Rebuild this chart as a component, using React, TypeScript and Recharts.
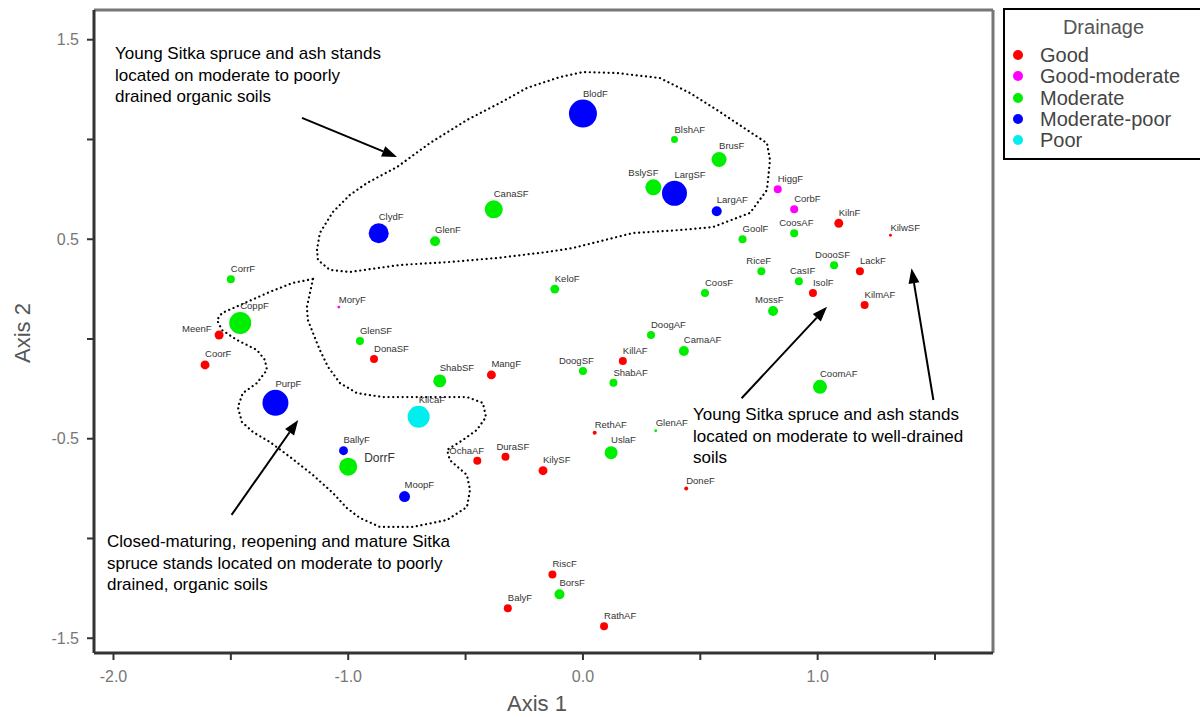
import { ScatterChart, Scatter, XAxis, YAxis, ReferenceLine } from 'recharts'

const DRAINAGE = ['Good', 'Good-moderate', 'Moderate', 'Moderate-poor', 'Poor']
const DRAINAGE_COLORS = ['#ff0000', '#ff00ff', '#00ee00', '#0000ff', '#00eeee']

// ordination scores
const SITES = [
  'BlodF', 'BlshAF', 'BrusF', 'BslySF', 'LargSF', 'LargAF', 'CanaSF', 'GlenF', 'ClydF', 'HiggF',
  'CorbF', 'KilnF', 'KilwSF', 'CoosAF', 'GoolF', 'DoooSF', 'LackF', 'RiceF', 'CasIF', 'IsolF',
  'KilmAF', 'CoosF', 'MossF', 'CoomAF', 'KeloF', 'DoogAF', 'CamaAF', 'KillAF', 'DoogSF', 'ShabAF',
  'MangF', 'RethAF', 'GlenAF', 'UslaF', 'DuraSF', 'KilySF', 'OchaAF', 'DoneF', 'RiscF', 'BorsF',
  'BalyF', 'RathAF', 'CorrF', 'CoppF', 'MeenF', 'CoorF', 'PurpF', 'MoryF', 'GlenSF', 'DonaSF',
  'ShabSF', 'KilcaF', 'BallyF', 'DorrF', 'MoopF',
]
const AXIS1 = [
  0.0, 0.39, 0.58, 0.3, 0.39, 0.57, -0.38, -0.63, -0.87, 0.83,
  0.9, 1.09, 1.31, 0.9, 0.68, 1.07, 1.18, 0.76, 0.92, 0.98,
  1.2, 0.52, 0.81, 1.01, -0.12, 0.29, 0.43, 0.17, 0.0, 0.13,
  -0.39, 0.05, 0.31, 0.12, -0.33, -0.17, -0.45, 0.44, -0.13, -0.1,
  -0.32, 0.09, -1.5, -1.46, -1.55, -1.61, -1.31, -1.04, -0.95, -0.89,
  -0.61, -0.7, -1.02, -1.0, -0.76,
]
const AXIS2 = [
  1.13, 1.0, 0.9, 0.76, 0.73, 0.64, 0.65, 0.49, 0.53, 0.75,
  0.65, 0.58, 0.52, 0.53, 0.5, 0.37, 0.34, 0.34, 0.29, 0.23,
  0.17, 0.23, 0.14, -0.24, 0.25, 0.02, -0.06, -0.11, -0.16, -0.22,
  -0.18, -0.47, -0.46, -0.57, -0.59, -0.66, -0.61, -0.75, -1.18, -1.28,
  -1.35, -1.44, 0.3, 0.08, 0.02, -0.13, -0.32, 0.16, -0.01, -0.1,
  -0.21, -0.39, -0.56, -0.64, -0.79,
]
const STAND_WEIGHT = [
  196, 12, 56, 64, 156, 25, 81, 25, 100, 16,
  16, 20, 2, 16, 16, 16, 16, 16, 16, 16,
  16, 16, 25, 49, 20, 16, 25, 16, 16, 16,
  20, 4, 2, 42, 16, 20, 16, 4, 16, 25,
  16, 16, 16, 121, 20, 20, 169, 2, 16, 16,
  42, 121, 20, 81, 30,
]
// index into DRAINAGE
const SITE_DRAINAGE = [
  3, 2, 2, 2, 3, 3, 2, 2, 3, 1,
  1, 0, 0, 2, 2, 2, 0, 2, 2, 0,
  0, 2, 2, 2, 2, 2, 2, 0, 2, 2,
  0, 0, 2, 2, 0, 0, 0, 0, 0, 2,
  0, 0, 2, 2, 0, 0, 3, 1, 2, 0,
  2, 4, 3, 2, 3,
]

const X_DOMAIN = [-2.083, 1.747]
const Y_DOMAIN = [-1.574, 1.649]
const X_TICKS = [-2, -1.5, -1, -0.5, 0, 0.5, 1, 1.5]
const X_LABELLED = [-2, -1, 0, 1]
const Y_TICKS = [-1.5, -1, -0.5, 0, 0.5, 1, 1.5]
const Y_LABELLED = [-1.5, -0.5, 0.5, 1.5]

// hand-drawn groupings, in axis units
const OUTLINE_YOUNG_WET = [
  [-1.133, 0.446], [-1.121, 0.531], [-1.065, 0.637], [-0.993, 0.722], [-0.92, 0.782],
  [-0.792, 0.862], [-0.652, 0.982], [-0.494, 1.098], [-0.354, 1.183], [-0.239, 1.258],
  [-0.098, 1.313], [0.0, 1.338], [0.145, 1.333], [0.328, 1.308], [0.456, 1.233],
  [0.571, 1.148], [0.699, 1.048], [0.784, 0.982], [0.797, 0.897], [0.784, 0.747],
  [0.712, 0.632], [0.554, 0.561], [0.413, 0.546], [0.213, 0.531], [-0.043, 0.456],
  [-0.153, 0.436], [-0.366, 0.406], [-0.567, 0.386], [-0.78, 0.371], [-0.993, 0.336],
  [-1.078, 0.346], [-1.129, 0.396], [-1.133, 0.446],
]
const OUTLINE_MATURE = [
  [-1.15, 0.301], [-1.163, 0.231], [-1.176, 0.16], [-1.172, 0.095], [-1.15, 0.03],
  [-1.121, -0.055], [-1.086, -0.14], [-1.035, -0.221], [-0.963, -0.271], [-0.852, -0.291],
  [-0.707, -0.291], [-0.494, -0.291], [-0.426, -0.321], [-0.413, -0.391], [-0.452, -0.456],
  [-0.511, -0.506], [-0.579, -0.556], [-0.567, -0.607], [-0.494, -0.682], [-0.481, -0.757],
  [-0.494, -0.842], [-0.579, -0.907], [-0.724, -0.942], [-0.865, -0.942], [-0.95, -0.897],
  [-1.006, -0.847], [-1.065, -0.772], [-1.15, -0.682], [-1.248, -0.591], [-1.334, -0.516],
  [-1.406, -0.466], [-1.453, -0.416], [-1.47, -0.341], [-1.449, -0.271], [-1.389, -0.221],
  [-1.346, -0.155], [-1.355, -0.105], [-1.389, -0.055], [-1.474, -0.005], [-1.538, 0.045],
  [-1.559, 0.095], [-1.538, 0.13], [-1.432, 0.185], [-1.334, 0.236], [-1.236, 0.281],
  [-1.15, 0.301],
]
const ARROWS = [
  [[-1.197, 1.108], [-0.792, 0.912]],
  [[0.676, -0.297], [1.04, 0.162]],
  [[1.493, -0.306], [1.4, 0.354]],
  [[-1.497, -0.882], [-1.213, -0.406]],
]

// label nudges (px) where the original labels sit left of their point
const LABEL_SHIFT: Record<string, number> = {
  BslySF: -25, DoooSF: -19, OchaAF: -28, DuraSF: -9, CoosAF: -15,
  DoogSF: -24, RiceF: -15, CasIF: -9, MossF: -18,
}
const LABEL_LEFT = ['MeenF']
const LABEL_RIGHT = ['DorrF']

const FONT = '"Liberation Sans", Arial, sans-serif'

const sites = SITES.map((site, i) => ({
  site,
  x: AXIS1[i],
  y: AXIS2[i],
  weight: STAND_WEIGHT[i],
  drainage: SITE_DRAINAGE[i],
}))

function Bubble(props: any) {
  const { cx, cy, payload, color } = props
  if (cx == null || cy == null) return null
  const r = Math.sqrt(payload.weight)
  let tx = cx + (LABEL_SHIFT[payload.site] ?? 0)
  let ty = cy - r - 3
  let anchor = 'start'
  if (LABEL_LEFT.includes(payload.site)) {
    tx = cx - r - 3
    ty = cy - 3
    anchor = 'end'
  } else if (LABEL_RIGHT.includes(payload.site)) {
    tx = cx + r + 7
    ty = cy - 5
  }
  return (
    <g>
      <circle cx={cx} cy={cy} r={r} fill={color} />
      <text x={tx} y={ty} textAnchor={anchor} fontSize={LABEL_RIGHT.includes(payload.site) ? 12 : 9.5} fill="#333" fontFamily={FONT}>
        {payload.site}
      </text>
    </g>
  )
}

function Arrow(props: any) {
  const { x1, y1, x2, y2 } = props
  const a = Math.atan2(y2 - y1, x2 - x1)
  const len = 15
  const w = 5.5
  const bx = x2 - len * Math.cos(a)
  const by = y2 - len * Math.sin(a)
  const px = -Math.sin(a) * w
  const py = Math.cos(a) * w
  return (
    <g>
      <line x1={x1} y1={y1} x2={bx} y2={by} stroke="#000" strokeWidth={2} />
      <polygon points={`${x2},${y2} ${bx + px},${by + py} ${bx - px},${by - py}`} fill="#000" />
    </g>
  )
}

const xTick = (props: any) => {
  const { x, y, payload } = props
  if (!X_LABELLED.includes(payload.value)) return <g />
  return (
    <text x={x} y={y} dy="0.71em" textAnchor="middle" fontSize={16} fill="#777" fontFamily={FONT}>
      {payload.value.toFixed(1)}
    </text>
  )
}

const yTick = (props: any) => {
  const { x, y, payload } = props
  if (!Y_LABELLED.includes(payload.value)) return <g />
  return (
    <text x={x} y={y} dy="0.35em" textAnchor="end" fontSize={16} fill="#777" fontFamily={FONT}>
      {payload.value.toFixed(1)}
    </text>
  )
}

const noDot = () => <g />

const noteStyle = {
  position: 'absolute' as const,
  fontFamily: FONT,
  fontSize: 17,
  lineHeight: '21.5px',
  color: '#000',
  whiteSpace: 'nowrap' as const,
}

export default function App() {
  return (
    <div style={{ position: 'absolute', left: 0, top: 0, width: 1200, height: 717, background: '#fff', overflow: 'hidden' }}>
      <ScatterChart width={1200} height={717} margin={{ top: 10, right: 207, bottom: 24, left: 34 }}>
        <XAxis
          type="number"
          dataKey="x"
          domain={X_DOMAIN}
          ticks={X_TICKS}
          interval={0}
          allowDataOverflow
          height={40}
          tickSize={7}
          tickMargin={11}
          tick={xTick}
          tickLine={{ stroke: '#333', strokeWidth: 2 }}
          axisLine={{ stroke: '#333', strokeWidth: 3 }}
        />
        <YAxis
          type="number"
          dataKey="y"
          domain={Y_DOMAIN}
          ticks={Y_TICKS}
          interval={0}
          allowDataOverflow
          width={60}
          tickSize={7}
          tickMargin={8}
          tick={yTick}
          tickLine={{ stroke: '#333', strokeWidth: 2 }}
          axisLine={{ stroke: '#333', strokeWidth: 3 }}
        />
        <ReferenceLine y={Y_DOMAIN[1]} stroke="#777" strokeWidth={3} />
        <ReferenceLine x={X_DOMAIN[1]} stroke="#777" strokeWidth={3} />

        {[OUTLINE_YOUNG_WET, OUTLINE_MATURE].map((outline, i) => (
          <Scatter
            key={`outline-${i}`}
            data={outline.map(([x, y]) => ({ x, y }))}
            line={{ stroke: '#000', strokeWidth: 2.2, strokeDasharray: '0.1 4.6', strokeLinecap: 'round' }}
            lineType="joint"
            shape={noDot}
            legendType="none"
            isAnimationActive={false}
          />
        ))}

        {ARROWS.map(([from, to], i) => (
          <ReferenceLine
            key={`arrow-${i}`}
            segment={[{ x: from[0], y: from[1] }, { x: to[0], y: to[1] }]}
            shape={Arrow}
            ifOverflow="visible"
          />
        ))}

        {DRAINAGE.map((name, d) => (
          <Scatter
            key={name}
            name={name}
            data={sites.filter((s) => s.drainage === d)}
            fill={DRAINAGE_COLORS[d]}
            shape={(p: any) => <Bubble {...p} color={DRAINAGE_COLORS[d]} />}
            isAnimationActive={false}
          />
        ))}
      </ScatterChart>

      <div style={{ ...noteStyle, left: 115, top: 43 }}>
        Young Sitka spruce and ash stands<br />located on moderate to poorly<br />drained organic soils
      </div>
      <div style={{ ...noteStyle, left: 693, top: 404 }}>
        Young Sitka spruce and ash stands<br />located on moderate to well-drained<br />soils
      </div>
      <div style={{ ...noteStyle, left: 107, top: 531 }}>
        Closed-maturing, reopening and mature Sitka<br />spruce stands located on moderate to poorly<br />drained, organic soils
      </div>

      <div style={{ position: 'absolute', left: 507, top: 691, fontFamily: FONT, fontSize: 22, color: '#555', lineHeight: '26px' }}>
        Axis 1
      </div>
      <div
        style={{
          position: 'absolute',
          left: 23,
          top: 333,
          transform: 'translate(-50%, -50%) rotate(-90deg)',
          fontFamily: FONT,
          fontSize: 22,
          color: '#555',
          lineHeight: '26px',
          whiteSpace: 'nowrap',
        }}
      >
        Axis 2
      </div>

      <div
        style={{
          position: 'absolute',
          left: 1003,
          top: 8,
          width: 197,
          height: 148,
          border: '2px solid #000',
          borderRight: 'none',
          fontFamily: FONT,
          color: '#444',
        }}
      >
        <div style={{ position: 'absolute', left: 0, width: 197, top: 6, textAlign: 'center', fontSize: 20, lineHeight: '22px', color: '#555' }}>
          Drainage
        </div>
        {DRAINAGE.map((name, d) => (
          <div key={name} style={{ position: 'absolute', left: 0, top: 34 + d * 21.25, height: 22, width: 197 }}>
            <span
              style={{
                position: 'absolute',
                left: 8,
                top: 6,
                width: 10,
                height: 10,
                borderRadius: 5,
                background: DRAINAGE_COLORS[d],
              }}
            />
            <span style={{ position: 'absolute', left: 35, top: 0, fontSize: 20, lineHeight: '22px', whiteSpace: 'nowrap' }}>{name}</span>
          </div>
        ))}
      </div>
    </div>
  )
}
